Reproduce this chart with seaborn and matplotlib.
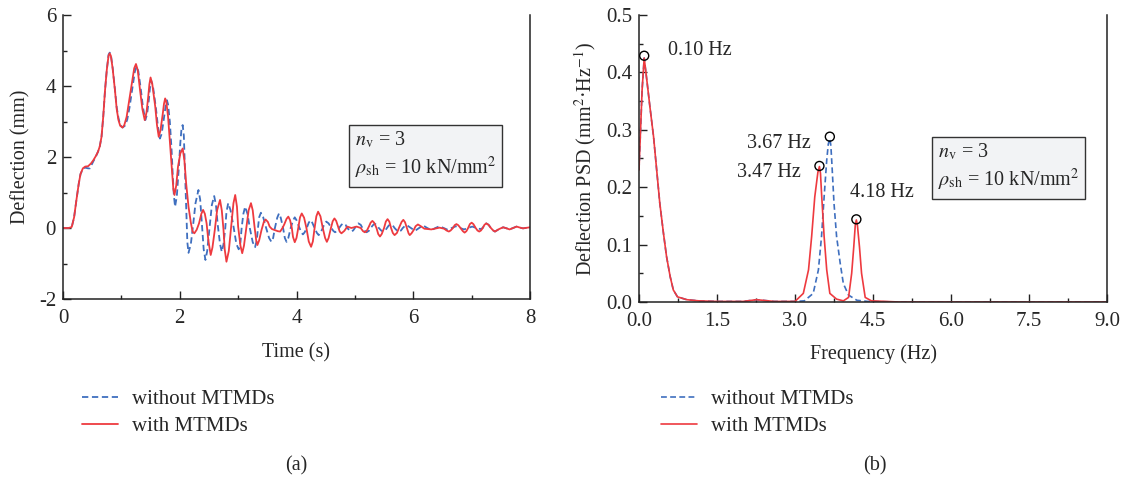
import numpy as np
import pandas as pd
import matplotlib
matplotlib.use("Agg")
import matplotlib.pyplot as plt
from matplotlib.ticker import MultipleLocator
import seaborn as sns

# ---------------- data: (a) time history, with MTMDs ----------------
t_with = [0.00, 0.10, 0.15, 0.19, 0.23, 0.27, 0.30, 0.34, 0.38, 0.43, 0.48, 0.52, 0.56, 0.60,
          0.63, 0.66, 0.69, 0.72, 0.75, 0.78, 0.80, 0.82, 0.85, 0.89, 0.92, 0.95, 0.98, 1.02,
          1.05, 1.09, 1.13, 1.18, 1.22, 1.25, 1.28, 1.32, 1.36, 1.40, 1.43, 1.46, 1.48, 1.50,
          1.53, 1.58, 1.61, 1.64, 1.67, 1.71, 1.73, 1.75, 1.77, 1.80, 1.83, 1.86, 1.89, 1.91,
          1.94, 1.97, 2.01, 2.05, 2.08, 2.11, 2.15, 2.19, 2.22, 2.25, 2.29, 2.33, 2.37, 2.40,
          2.43, 2.46, 2.49, 2.53, 2.56, 2.60, 2.64, 2.69, 2.72, 2.75, 2.77, 2.80, 2.84, 2.88,
          2.92, 2.95, 2.98, 3.00, 3.04, 3.07, 3.10, 3.14, 3.18, 3.22, 3.25, 3.28, 3.31, 3.33,
          3.36, 3.40, 3.44, 3.47, 3.51, 3.54, 3.58, 3.63, 3.68, 3.72, 3.76, 3.79, 3.83, 3.86,
          3.89, 3.92, 3.94, 3.97, 4.00, 4.03, 4.06, 4.09, 4.13, 4.17, 4.21, 4.25, 4.28, 4.31,
          4.34, 4.37, 4.41, 4.45, 4.49, 4.52, 4.55, 4.59, 4.62, 4.65, 4.68, 4.71, 4.74, 4.77,
          4.82, 4.87, 4.94, 5.03, 5.10, 5.14, 5.17, 5.20, 5.24, 5.27, 5.30, 5.33, 5.37, 5.40,
          5.43, 5.46, 5.50, 5.53, 5.56, 5.59, 5.62, 5.65, 5.68, 5.72, 5.76, 5.80, 5.83, 5.86,
          5.89, 5.92, 5.94, 5.97, 6.01, 6.04, 6.08, 6.13, 6.19, 6.31, 6.45, 6.53, 6.57, 6.61,
          6.64, 6.68, 6.71, 6.74, 6.77, 6.81, 6.85, 6.88, 6.91, 6.94, 6.97, 7.00, 7.03, 7.07,
          7.10, 7.13, 7.16, 7.19, 7.22, 7.25, 7.29, 7.33, 7.37, 7.40, 7.47, 7.54, 7.60, 7.65,
          7.71, 7.77, 7.83, 7.88, 8.00]
y_with = [0.00, 0.00, 0.03, 0.30, 0.79, 1.25, 1.52, 1.68, 1.73, 1.74, 1.82, 1.91, 2.02, 2.15,
          2.30, 2.57, 3.15, 3.88, 4.45, 4.85, 4.92, 4.85, 4.50, 3.88, 3.35, 3.04, 2.88, 2.83,
          2.90, 3.13, 3.55, 4.07, 4.50, 4.62, 4.45, 3.88, 3.35, 3.04, 3.25, 3.70, 4.05, 4.24,
          4.05, 3.42, 2.90, 2.57, 2.75, 3.23, 3.50, 3.65, 3.55, 3.13, 2.45, 1.73, 1.10, 0.93,
          1.20, 1.73, 2.10, 2.24, 1.90, 1.25, 0.60, 0.15, -0.10, -0.15, -0.05, 0.13, 0.40, 0.51,
          0.40, 0.13, -0.35, -0.76, -0.55, -0.06, 0.50, 0.79, 0.50, -0.06, -0.60, -0.95, -0.65, 0.04,
          0.70, 0.93, 0.60, 0.04, -0.50, -0.71, -0.50, 0.00, 0.50, 0.70, 0.50, 0.05, -0.35, -0.48,
          -0.35, -0.06, 0.17, 0.24, 0.17, 0.04, -0.03, -0.06, -0.09, -0.10, 0.00, 0.10, 0.26, 0.32,
          0.22, 0.00, -0.25, -0.40, -0.28, 0.00, 0.30, 0.41, 0.29, 0.00, -0.38, -0.53, -0.38, 0.00,
          0.33, 0.46, 0.33, 0.00, -0.28, -0.39, -0.28, 0.00, 0.19, 0.27, 0.20, 0.05, -0.10, -0.15,
          -0.08, 0.04, 0.00, 0.04, 0.00, -0.09, -0.12, -0.09, 0.04, 0.15, 0.20, 0.15, 0.00, -0.17,
          -0.24, -0.17, 0.00, 0.18, 0.25, 0.18, 0.00, -0.14, -0.20, -0.14, 0.02, 0.17, 0.23, 0.16,
          0.00, -0.15, -0.20, -0.15, -0.05, 0.05, 0.10, 0.05, -0.02, -0.04, 0.01, -0.02, -0.07, -0.10,
          -0.07, 0.00, 0.08, 0.11, 0.08, 0.00, -0.09, -0.13, -0.09, 0.00, 0.11, 0.15, 0.11, 0.00,
          -0.07, -0.10, -0.07, 0.00, 0.09, 0.13, 0.09, 0.00, -0.07, -0.10, -0.03, 0.02, -0.01, -0.04,
          0.00, 0.04, 0.01, -0.01, 0.02]

# ---------------- data: (a) time history, without MTMDs ----------------
t_without = [0.00, 0.10, 0.15, 0.19, 0.23, 0.27, 0.30, 0.34, 0.38, 0.43, 0.46, 0.49, 0.52, 0.56,
             0.60, 0.63, 0.66, 0.69, 0.72, 0.75, 0.78, 0.80, 0.82, 0.85, 0.89, 0.92, 0.95, 0.98,
             1.02, 1.06, 1.10, 1.14, 1.19, 1.23, 1.26, 1.29, 1.33, 1.37, 1.41, 1.44, 1.47, 1.49,
             1.51, 1.54, 1.59, 1.63, 1.66, 1.69, 1.73, 1.76, 1.78, 1.80, 1.83, 1.86, 1.88, 1.90,
             1.92, 1.95, 1.98, 2.01, 2.03, 2.05, 2.07, 2.10, 2.13, 2.15, 2.19, 2.23, 2.27, 2.32,
             2.35, 2.38, 2.41, 2.44, 2.47, 2.51, 2.55, 2.59, 2.62, 2.65, 2.69, 2.72, 2.75, 2.78,
             2.80, 2.83, 2.87, 2.92, 2.97, 3.01, 3.04, 3.06, 3.09, 3.12, 3.16, 3.20, 3.25, 3.29,
             3.32, 3.34, 3.36, 3.39, 3.43, 3.48, 3.53, 3.57, 3.60, 3.63, 3.67, 3.70, 3.73, 3.77,
             3.80, 3.83, 3.86, 3.90, 3.94, 3.97, 4.00, 4.04, 4.08, 4.11, 4.14, 4.18, 4.21, 4.24,
             4.27, 4.31, 4.35, 4.38, 4.41, 4.45, 4.48, 4.51, 4.55, 4.59, 4.63, 4.66, 4.70, 4.73,
             4.77, 4.80, 4.84, 4.87, 4.91, 4.94, 4.97, 5.00, 5.03, 5.06, 5.10, 5.13, 5.17, 5.20,
             5.24, 5.27, 5.31, 5.34, 5.38, 5.41, 5.45, 5.48, 5.52, 5.55, 5.58, 5.61, 5.65, 5.68,
             5.72, 5.75, 5.79, 5.82, 5.86, 5.89, 5.96, 6.03, 6.10, 6.17, 6.24, 6.31, 6.38, 6.45,
             6.52, 6.59, 6.66, 6.73, 6.80, 6.87, 6.94, 7.01, 7.08, 7.15, 7.19, 7.22, 7.25, 7.29,
             7.33, 7.37, 7.40, 7.47, 7.54, 7.60, 7.65, 7.71, 7.77, 7.83, 7.88, 8.00]
y_without = [0.00, 0.00, 0.03, 0.30, 0.79, 1.25, 1.52, 1.66, 1.70, 1.68, 1.68, 1.78, 1.88, 2.00,
             2.15, 2.30, 2.57, 3.15, 3.88, 4.45, 4.88, 4.94, 4.88, 4.52, 3.90, 3.40, 3.10, 2.90,
             2.83, 2.88, 3.05, 3.40, 3.95, 4.40, 4.55, 4.42, 3.95, 3.40, 3.04, 3.20, 3.60, 3.95,
             4.16, 4.00, 3.40, 2.80, 2.52, 2.65, 3.10, 3.45, 3.60, 3.48, 3.00, 2.20, 1.50, 0.90,
             0.60, 0.90, 1.60, 2.40, 2.80, 2.90, 2.60, 1.10, -0.40, -0.70, -0.45, 0.10, 0.70, 1.07,
             0.80, 0.10, -0.60, -0.90, -0.65, 0.00, 0.65, 0.90, 0.65, 0.10, -0.45, -0.67, -0.45, 0.00,
             0.45, 0.70, 0.50, 0.05, -0.45, -0.60, -0.40, 0.00, 0.40, 0.60, 0.40, 0.00, -0.40, -0.54,
             -0.35, 0.00, 0.30, 0.43, 0.30, 0.00, -0.28, -0.39, -0.28, 0.00, 0.29, 0.41, 0.29, 0.00,
             -0.28, -0.39, -0.28, 0.00, 0.21, 0.30, 0.22, 0.05, -0.12, -0.18, -0.12, 0.02, 0.15, 0.22,
             0.15, 0.00, -0.14, -0.20, -0.14, 0.00, 0.13, 0.18, 0.13, 0.02, -0.08, -0.12, -0.08, 0.00,
             0.09, 0.13, 0.09, 0.00, -0.07, -0.10, -0.07, 0.00, 0.09, 0.13, 0.09, 0.00, -0.08, -0.12,
             -0.08, 0.00, 0.08, 0.12, 0.08, 0.00, -0.07, -0.10, -0.07, 0.00, 0.07, 0.10, 0.07, 0.00,
             -0.07, -0.10, -0.07, 0.00, 0.06, 0.08, 0.00, -0.08, 0.00, 0.07, 0.00, -0.06, 0.00, 0.05,
             0.00, -0.05, 0.00, 0.05, 0.00, -0.04, 0.00, 0.04, 0.00, -0.03, 0.00, 0.09, 0.13, 0.09,
             0.00, -0.07, -0.10, -0.03, 0.02, -0.01, -0.04, 0.00, 0.04, 0.01, -0.01, 0.02]

# ---------------- data: (b) PSD ----------------
f_with = [0.00, 0.03, 0.06, 0.10, 0.15, 0.21, 0.28, 0.34, 0.40, 0.47, 0.53, 0.60, 0.66, 0.74,
          0.92, 1.15, 1.50, 2.00, 2.26, 2.60, 3.00, 3.16, 3.26, 3.32, 3.38, 3.44, 3.47, 3.49,
          3.51, 3.56, 3.61, 3.67, 3.80, 3.93, 4.03, 4.09, 4.13, 4.16, 4.18, 4.20, 4.24, 4.28,
          4.35, 4.47, 5.00, 6.00, 7.00, 8.00, 9.00]
p_with = [0.230, 0.300, 0.370, 0.425, 0.387, 0.340, 0.288, 0.230, 0.172, 0.120, 0.079, 0.044,
          0.021, 0.009, 0.004, 0.002, 0.001, 0.001, 0.004, 0.001, 0.001, 0.015, 0.056, 0.114,
          0.183, 0.226, 0.236, 0.224, 0.190, 0.114, 0.056, 0.015, 0.005, 0.002, 0.008, 0.050,
          0.096, 0.135, 0.143, 0.134, 0.096, 0.050, 0.008, 0.002, 0.000, 0.000, 0.000, 0.000,
          0.000]

f_without = [0.00, 0.03, 0.06, 0.10, 0.15, 0.21, 0.28, 0.34, 0.40, 0.47, 0.53, 0.60, 0.66, 0.74,
             0.92, 1.15, 1.50, 2.00, 2.26, 2.60, 3.00, 3.18, 3.35, 3.45, 3.51, 3.56, 3.61, 3.64,
             3.67, 3.69, 3.71, 3.75, 3.80, 3.87, 3.93, 4.03, 4.19, 4.40, 5.00, 6.00, 7.00, 8.00,
             9.00]
p_without = [0.230, 0.300, 0.370, 0.425, 0.387, 0.340, 0.288, 0.230, 0.172, 0.120, 0.079, 0.044,
             0.021, 0.009, 0.004, 0.002, 0.001, 0.001, 0.004, 0.001, 0.001, 0.002, 0.015, 0.056,
             0.114, 0.183, 0.247, 0.275, 0.285, 0.272, 0.240, 0.172, 0.114, 0.067, 0.032, 0.012,
             0.003, 0.001, 0.000, 0.000, 0.000, 0.000, 0.000]

peak_f = [0.10, 3.67, 3.47, 4.18]
peak_p = [0.429, 0.288, 0.237, 0.144]
peak_labels = ["0.10 Hz", "3.67 Hz", "3.47 Hz", "4.18 Hz"]

series_labels = ["without MTMDs", "with MTMDs"]

# ---------------- style ----------------
sns.set_style("ticks")
plt.rcParams["font.family"] = ["Liberation Serif", "DejaVu Serif"]
plt.rcParams["mathtext.fontset"] = "stix"
plt.rcParams["xtick.direction"] = "in"
plt.rcParams["ytick.direction"] = "in"
plt.rcParams["axes.unicode_minus"] = False

BLUE = "#3f6fbf"
RED = "#ee3a3f"
FS_TICK = 15
FS_LAB = 14.5
FS_TXT = 14.5
FS_LEG = 15

fig = plt.figure(figsize=(11.3, 4.8), dpi=100)
axA = fig.add_axes([63 / 1130, 1 - 299 / 480, (530 - 63) / 1130, (299 - 15) / 480])
axB = fig.add_axes([639 / 1130, 1 - 302 / 480, (1107 - 639) / 1130, (302 - 15) / 480])

dfA1 = pd.DataFrame({"t": t_without, "y": y_without})
dfA2 = pd.DataFrame({"t": t_with, "y": y_with})
sns.lineplot(data=dfA1, x="t", y="y", ax=axA, color=BLUE, linewidth=1.3,
             linestyle=(0, (3.5, 2)), label=series_labels[0], sort=False)
sns.lineplot(data=dfA2, x="t", y="y", ax=axA, color=RED, linewidth=1.3,
             label=series_labels[1], sort=False)

dfB1 = pd.DataFrame({"f": f_without, "p": p_without})
dfB2 = pd.DataFrame({"f": f_with, "p": p_with})
sns.lineplot(data=dfB1, x="f", y="p", ax=axB, color=BLUE, linewidth=1.2,
             linestyle=(0, (3.5, 2)), label=series_labels[0], sort=False)
sns.lineplot(data=dfB2, x="f", y="p", ax=axB, color=RED, linewidth=1.2,
             label=series_labels[1], sort=False)
axB.scatter(peak_f, peak_p, s=42, facecolors="none", edgecolors="black", linewidths=1.0, zorder=5)

# peak labels
axB.text(0.56, 0.438, peak_labels[0], fontsize=FS_TXT, ha="left", va="center")
axB.text(3.31, 0.277, peak_labels[1], fontsize=FS_TXT, ha="right", va="center")
axB.text(3.12, 0.226, peak_labels[2], fontsize=FS_TXT, ha="right", va="center")
axB.text(4.05, 0.191, peak_labels[3], fontsize=FS_TXT, ha="left", va="center")

# axes formatting
for ax in (axA, axB):
    ax.tick_params(which="major", length=6, width=1, labelsize=FS_TICK, color="#222222")
    ax.tick_params(which="minor", length=3, width=1, color="#222222")
    ax.tick_params(axis="x", pad=7)
    ax.tick_params(axis="y", pad=5)
    for s in ax.spines.values():
        s.set_linewidth(1.1)
        s.set_color("#222222")
    ax.spines["top"].set_visible(False)

axA.set_xlim(0, 8)
axA.set_ylim(-2, 6)
axA.xaxis.set_major_locator(MultipleLocator(2))
axA.xaxis.set_minor_locator(MultipleLocator(1))
axA.yaxis.set_major_locator(MultipleLocator(2))
axA.yaxis.set_minor_locator(MultipleLocator(1))
axA.set_xlabel("Time (s)", fontsize=FS_LAB, labelpad=11)
axA.set_ylabel("Deflection (mm)", fontsize=FS_LAB, labelpad=6)

axB.set_xlim(0, 9)
axB.set_ylim(0, 0.5)
axB.set_xticks([0, 1.5, 3.0, 4.5, 6.0, 7.5, 9.0])
axB.set_xticklabels(["0.0", "1.5", "3.0", "4.5", "6.0", "7.5", "9.0"])
axB.xaxis.set_minor_locator(MultipleLocator(0.75))
axB.set_yticks([0, 0.1, 0.2, 0.3, 0.4, 0.5])
axB.set_yticklabels(["0.0", "0.1", "0.2", "0.3", "0.4", "0.5"])
axB.yaxis.set_minor_locator(MultipleLocator(0.05))
axB.set_xlabel("Frequency (Hz)", fontsize=FS_LAB, labelpad=10)
axB.set_ylabel("Deflection PSD (mm$^2$·Hz$^{-1}$)", fontsize=FS_LAB, labelpad=6)

box = dict(boxstyle="square,pad=0.3", facecolor="#f2f3f5", edgecolor="#333333", linewidth=1.0)
note = "$n_{\\mathrm{v}}$ = 3\n$\\rho_{\\mathrm{sh}}$ = 10 kN/mm$^2$"
axA.text(0.625, 0.507, note, transform=axA.transAxes, fontsize=FS_TXT, ha="left", va="center",
         bbox=box, linespacing=1.25)
axB.text(0.638, 0.470, note, transform=axB.transAxes, fontsize=FS_TXT, ha="left", va="center",
         bbox=box, linespacing=1.25)

# legends below each panel
for ax, x0 in ((axA, 65 / 1130), (axB, 644 / 1130)):
    ax.legend(loc="upper left", bbox_to_anchor=(x0, 1 - 373 / 480), bbox_transform=fig.transFigure,
              frameon=False, fontsize=FS_LEG, handlelength=1.75, handletextpad=0.65,
              labelspacing=0.35, borderpad=0.3)

fig.text(296 / 1130, 1 - 466 / 480, "(a)", fontsize=FS_LAB, ha="center", va="center")
fig.text(875 / 1130, 1 - 466 / 480, "(b)", fontsize=FS_LAB, ha="center", va="center")

fig.savefig("out.png", dpi=100)
